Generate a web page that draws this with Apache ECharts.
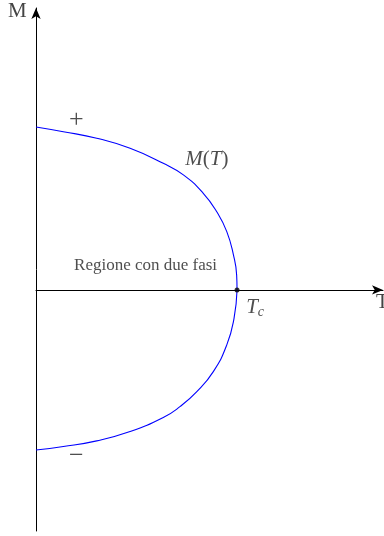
<!DOCTYPE html>
<html>
<head>
<meta charset="utf-8">
<script src="https://cdn.jsdelivr.net/npm/echarts@6/dist/echarts.min.js"></script>
<style>
  html, body { margin: 0; padding: 0; background: #fff; }
  #chart { width: 384px; height: 536px; }
</style>
</head>
<body>
<div id="chart"></div>
<script>
// Reduced temperature T/Tc and reduced magnetisation M/M0 along the coexistence curve
const upperT = [0, 0.136, 0.302, 0.468, 0.633, 0.733, 0.832, 0.899, 0.949, 0.982, 0.998, 1.0];
const upperM = [1.0, 0.971, 0.931, 0.869, 0.777, 0.706, 0.593, 0.480, 0.358, 0.215, 0.092, 0];
const lowerT = [1.0, 0.985, 0.949, 0.882, 0.800, 0.716, 0.633, 0.468, 0.302, 0.136, 0];
const lowerM = [0, -0.174, -0.337, -0.501, -0.624, -0.716, -0.783, -0.869, -0.926, -0.961, -0.982];

// Critical point
const critical = [1.0, 0];

// Annotations: [T, M, text]
const annotations = [
  [0.20, 1.04, '+'],
  [0.20, -1.02, '\u2212'],
  [0.85, 0.80, 'M(T)'],
  [0.545, 0.148, 'Regione con due fasi'],
  [1.09, -0.105, 'T_c']
];

const xRange = [0, 1.726];
const yRange = [-1.479, 1.73];

const serif = '"Liberation Serif", "DejaVu Serif", serif';

const chart = echarts.init(document.getElementById('chart'), null, { renderer: 'canvas' });

const pairs = (xs, ys) => xs.map((x, i) => [x, ys[i]]);

chart.setOption({
  animation: false,
  grid: { left: 36, right: 1, top: 8, bottom: 5 },
  xAxis: {
    type: 'value', min: xRange[0], max: xRange[1],
    axisLine: { onZero: true, symbol: ['none', 'arrow'], symbolSize: [7, 11], lineStyle: { color: '#000', width: 1 } },
    axisTick: { show: false }, axisLabel: { show: false }, splitLine: { show: false }
  },
  yAxis: {
    type: 'value', min: yRange[0], max: yRange[1],
    axisLine: { onZero: false, symbol: ['none', 'arrow'], symbolSize: [7, 11], lineStyle: { color: '#000', width: 1 } },
    axisTick: { show: false }, axisLabel: { show: false }, splitLine: { show: false }
  },
  graphic: [
    { type: 'text', left: 8, top: 1, style: { text: 'M', font: '21px ' + serif, fill: '#444' } },
    { type: 'text', left: 376, top: 292, style: { text: 'T', font: '21px ' + serif, fill: '#444' } }
  ],
  series: [
    {
      type: 'line', data: pairs(upperT, upperM), smooth: 0.5, showSymbol: false,
      lineStyle: { color: '#0000ff', width: 1.1 }
    },
    {
      type: 'line', data: pairs(lowerT, lowerM), smooth: 0.5, showSymbol: false,
      lineStyle: { color: '#0000ff', width: 1.1 }
    },
    {
      type: 'scatter', data: [critical], symbolSize: 5, itemStyle: { color: '#000' }, z: 5
    },
    {
      type: 'scatter', symbolSize: 0, silent: true,
      data: annotations.map(a => ({ value: [a[0], a[1]], name: a[2] })),
      label: {
        show: true, position: 'inside', color: '#222',
        formatter: p => {
          if (p.name === 'M(T)') return '{it|M}{rm|(}{it|T}{rm|)}';
          if (p.name === 'T_c') return '{it|T}{sub|c}';
          if (p.name === '+' || p.name === '\u2212') return '{sym|' + p.name + '}';
          return '{small|' + p.name + '}';
        },
        rich: {
          it: { fontFamily: serif, fontStyle: 'italic', fontSize: 21, color: '#222' },
          rm: { fontFamily: serif, fontSize: 21, color: '#222' },
          sub: { fontFamily: serif, fontStyle: 'italic', fontSize: 14, color: '#222', padding: [10, 0, 0, 0] },
          sym: { fontFamily: serif, fontSize: 26, color: '#222' },
          small: { fontFamily: serif, fontSize: 17, color: '#222' }
        }
      }
    }
  ]
});
</script>
</body>
</html>
